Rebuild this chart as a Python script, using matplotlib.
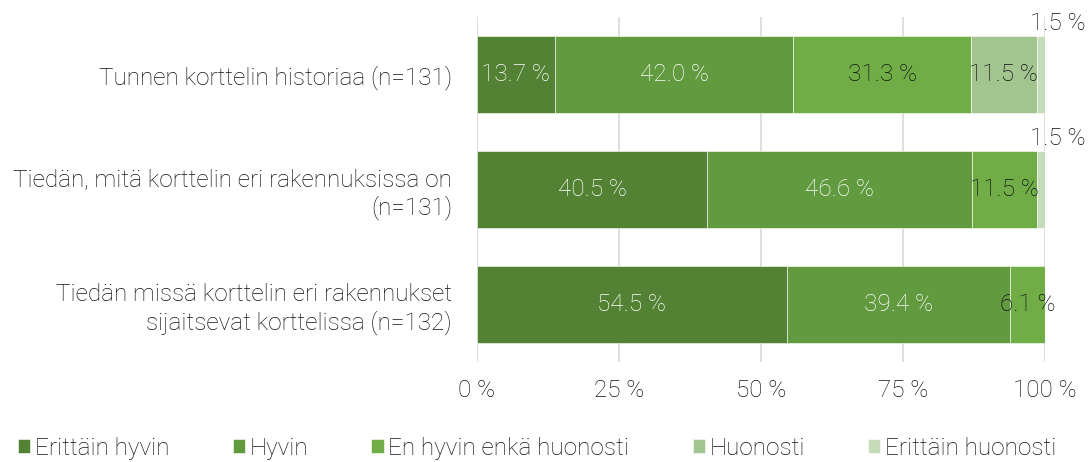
import matplotlib
matplotlib.use("Agg")
import matplotlib.pyplot as plt
import numpy as np

plt.rcParams['font.family'] = ['Roboto', 'DejaVu Sans']
plt.rcParams['font.weight'] = 'light'

kysymykset = ["Tunnen korttelin historiaa (n=131)",
              "Tiedän, mitä korttelin eri rakennuksissa on\n(n=131)",
              "Tiedän missä korttelin eri rakennukset\nsijaitsevat korttelissa (n=132)"]
vastaukset = ["Erittäin hyvin", "Hyvin", "En hyvin enkä huonosti", "Huonosti", "Erittäin huonosti"]
erittain_hyvin = [13.7, 40.5, 54.5]
hyvin = [42.0, 46.6, 39.4]
ei_kumpikaan = [31.3, 11.5, 6.1]
huonosti = [11.5, 0.0, 0.0]
erittain_huonosti = [1.5, 1.5, 0.0]
sarjat = [erittain_hyvin, hyvin, ei_kumpikaan, huonosti, erittain_huonosti]

varit = ["#548235", "#629A40", "#70AD47", "#A2C48F", "#C6DBB9"]
tekstivarit = ["white", "white", "#111111", "#111111", "#111111"]
koko = 17.5

fig = plt.figure(figsize=(10.92, 4.62), dpi=100)
ax = fig.add_axes([0.4368, 0.2165, 0.5202, 0.7465])

y = np.arange(len(kysymykset))
vasen = np.zeros(len(kysymykset))
for i, arvot in enumerate(sarjat):
    arvot = np.array(arvot)
    ax.barh(y, arvot, left=vasen, height=0.667, color=varit[i],
            edgecolor="white", linewidth=0.4, label=vastaukset[i], zorder=2)
    for j, v in enumerate(arvot):
        if v <= 0:
            continue
        keski = vasen[j] + v / 2
        if v < 3:
            ax.annotate(f"{v:.1f} %", (keski, y[j] - 0.333), xytext=(12, 1),
                        textcoords="offset points", ha="center", va="bottom",
                        fontsize=koko, color="#111111")
        else:
            ax.text(keski, y[j], f"{v:.1f} %", ha="center", va="center",
                    fontsize=koko, color=tekstivarit[i], zorder=3)
    vasen += arvot

ax.set_xlim(0, 100)
ax.set_ylim(2.5, -0.5)
ax.set_xticks([0, 25, 50, 75, 100])
ax.set_xticklabels(["0 %", "25 %", "50 %", "75 %", "100 %"], fontsize=koko, color="#111111")
ax.set_yticks(y)
ax.set_yticklabels(kysymykset, fontsize=koko, ha="right", color="#111111")
ax.tick_params(length=0, pad=18, axis="y")
ax.tick_params(length=0, pad=12, axis="x")
ax.xaxis.grid(True, color="#D9D9D9", linewidth=1.2, zorder=0)
ax.set_axisbelow(True)
for s in ax.spines.values():
    s.set_visible(False)

leg = fig.legend(loc="center", bbox_to_anchor=(0.492, 0.03), ncol=5, frameon=False,
                 fontsize=koko, handlelength=0.5, handleheight=0.5, handletextpad=0.2,
                 columnspacing=2.6)
for t in leg.get_texts():
    t.set_color("#111111")

fig.savefig("out.png", dpi=100)
